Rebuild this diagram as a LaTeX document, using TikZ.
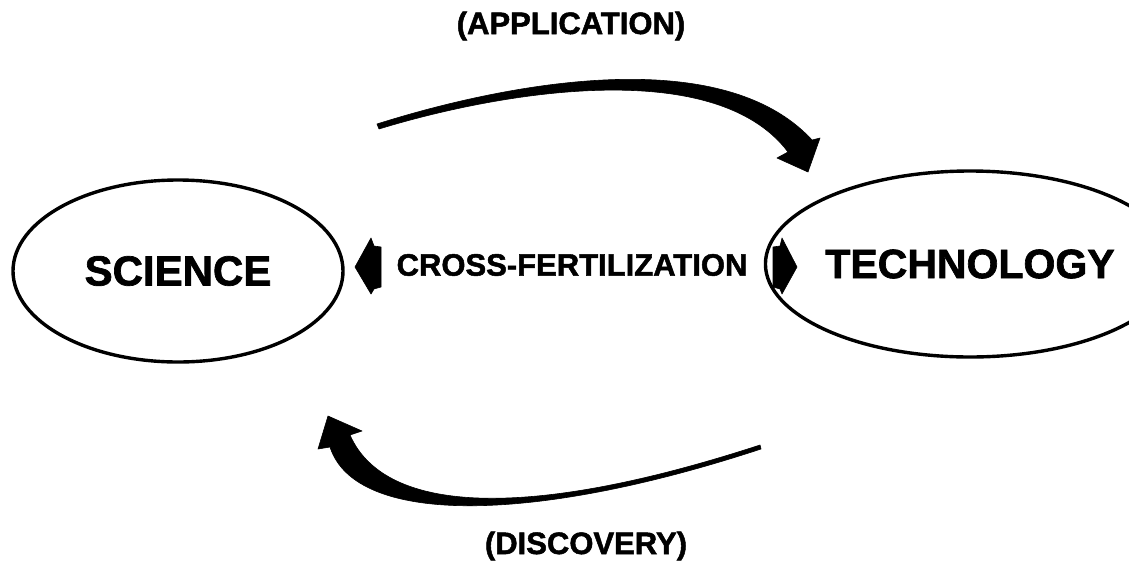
\documentclass[tikz,border=0pt]{standalone}
\usepackage{fontspec}
\setmainfont[BoldFeatures={FakeBold=1.6}]{Liberation Sans}
\usetikzlibrary{shapes.geometric}
\tikzset{
  blob/.style={draw=black, line width=3.4pt, ellipse, inner sep=0pt},
  big/.style={font=\bfseries\fontsize{42}{48}\selectfont},
  lbl/.style={font=\bfseries\fontsize{31}{36}\selectfont, inner sep=0pt},
  fat/.style={fill=black, draw=black, line width=0.6pt, line join=round},
}
\begin{document}
\begin{tikzpicture}[x=1pt,y=-1pt]
\useasboundingbox[fill=white] (0,0) rectangle (1129,568);
% ellipses
\node[blob, minimum width=330, minimum height=182, big] (sci) at (178,271) {SCIENCE};
\node[blob, minimum width=316, minimum height=186, font=\bfseries\fontsize{41}{47}\selectfont] (tech) at (970,264) {TECHNOLOGY};
% labels
\node[lbl] (cross) at (572,265) {CROSS-FERTILIZATION};
\node[lbl] (app) at (571,26) {(APPLICATION)};
\node[lbl] (disc) at (586,546) {(DISCOVERY)};
% cross-fertilization heads
\fill[fat] (355,267) -- (371,238) -- (374,246) -- (381,247) -- (381,287) -- (374,289) -- (371,294) -- cycle;
\fill[fat] (797,267) -- (782,238) -- (780,246) -- (773,247) -- (773,287) -- (780,289) -- (782,294) -- cycle;
% top arrow (application)
\filldraw[fat] (377,124) .. controls (500,85) and (720,40) .. (812,140)
  -- (820,138) -- (808,172) -- (777,158) -- (788,152)
  .. controls (715,55) and (500,92) .. (379,129) -- cycle;
% bottom arrow (discovery)
\filldraw[fat] (760,445) .. controls (530,520) and (385,515) .. (350,435)
  -- (362,431) -- (328,416) -- (318,449) -- (330,447)
  .. controls (355,525) and (530,525) .. (761,449) -- cycle;
\end{tikzpicture}
\end{document}
